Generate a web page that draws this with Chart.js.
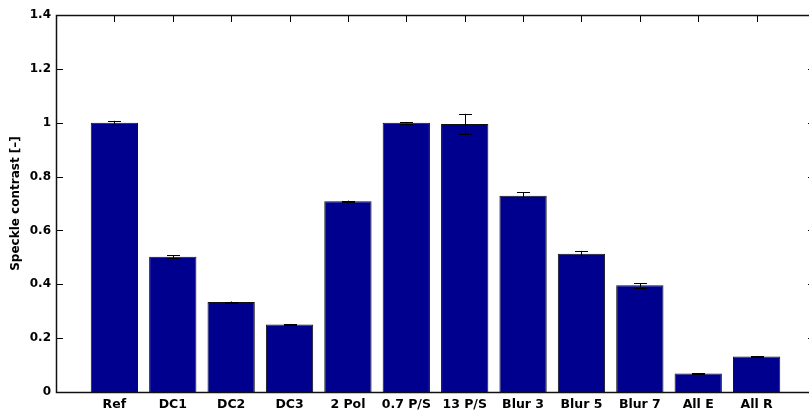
<!DOCTYPE html>
<html>
<head>
<meta charset="utf-8">
<script src="https://cdn.jsdelivr.net/npm/chart.js@4/dist/chart.umd.min.js"></script>
<style>
  html, body { margin: 0; padding: 0; background: #fff; overflow: hidden; }
  #wrap { width: 816px; height: 412px; }
  canvas { display: block; }
</style>
</head>
<body>
<div id="wrap"><canvas id="c" width="816" height="412"></canvas></div>
<script>
const categories = ['Ref', 'DC1', 'DC2', 'DC3', '2 Pol', '0.7 P/S', '13 P/S', 'Blur 3', 'Blur 5', 'Blur 7', 'All E', 'All R'];
const values = [1.0, 0.502, 0.334, 0.251, 0.708, 1.0, 0.995, 0.729, 0.513, 0.396, 0.069, 0.132];
const errors = [0.007, 0.005, 0.002, 0.002, 0.003, 0.003, 0.038, 0.012, 0.011, 0.008, 0.001, 0.002];
const yTicks = [0, 0.2, 0.4, 0.6, 0.8, 1, 1.2, 1.4];

const FONT = '"DejaVu Sans", "Liberation Sans", Arial, sans-serif';

const boxPlugin = {
  id: 'box',
  beforeDatasetsDraw(chart) {
    const ctx = chart.ctx;
    const a = chart.chartArea;
    const xs = chart.scales.x, ys = chart.scales.y;
    ctx.save();
    ctx.strokeStyle = '#000';
    ctx.lineWidth = 1;
    ctx.beginPath();
    yTicks.forEach(v => {
      const y = Math.round(ys.getPixelForValue(v)) + 0.5;
      ctx.moveTo(a.left, y); ctx.lineTo(a.left + 7, y);
      ctx.moveTo(a.right, y); ctx.lineTo(a.right - 7, y);
    });
    categories.forEach((c, i) => {
      const x = Math.round(xs.getPixelForValue(i + 1)) + 0.5;
      ctx.moveTo(x, a.top); ctx.lineTo(x, a.top + 7);
      ctx.moveTo(x, a.bottom); ctx.lineTo(x, a.bottom - 7);
    });
    ctx.stroke();
    ctx.restore();
  },
  afterDatasetsDraw(chart) {
    const ctx = chart.ctx;
    const a = chart.chartArea;
    const xs = chart.scales.x, ys = chart.scales.y;
    ctx.save();
    ctx.strokeStyle = '#000';
    ctx.lineWidth = 1;
    ctx.beginPath();
    values.forEach((v, i) => {
      const x = Math.round(xs.getPixelForValue(i + 1)) + 0.5;
      const yTop = ys.getPixelForValue(v + errors[i]);
      const yBot = ys.getPixelForValue(v - errors[i]);
      const half = 6.5;
      ctx.moveTo(x, yTop); ctx.lineTo(x, yBot);
      ctx.moveTo(x - half, Math.round(yTop) + 0.5); ctx.lineTo(x + half, Math.round(yTop) + 0.5);
      ctx.moveTo(x - half, Math.round(yBot) + 0.5); ctx.lineTo(x + half, Math.round(yBot) + 0.5);
    });
    ctx.stroke();
    ctx.strokeStyle = '#111';
    ctx.lineWidth = 1.5;
    const l = Math.round(a.left) + 0.5, r = Math.round(a.right) - 0.5;
    const t = Math.round(a.top) + 0.5, b = Math.round(a.bottom) + 0.5;
    ctx.strokeRect(l, t, r - l, b - t);
    ctx.restore();
  }
};

new Chart(document.getElementById('c'), {
  type: 'bar',
  data: {
    datasets: [{
      data: values.map((v, i) => ({ x: i + 1, y: v })),
      backgroundColor: '#00008F',
      borderColor: '#111',
      borderWidth: 1,
      barPercentage: 0.81,
      categoryPercentage: 1.0
    }]
  },
  options: {
    responsive: false,
    animation: false,
    devicePixelRatio: 1,
    layout: { padding: { top: 15, right: 1, left: 0, bottom: 0 } },
    plugins: { legend: { display: false }, tooltip: { enabled: false } },
    scales: {
      x: {
        type: 'linear',
        min: 0, max: 13,
        offset: false,
        grid: { display: false, drawTicks: false },
        border: { display: false },
        afterFit(s) { s.height = 20; },
        afterBuildTicks(s) { s.ticks = categories.map((c, i) => ({ value: i + 1 })); },
        ticks: {
          autoSkip: false,
          maxRotation: 0,
          padding: 5,
          color: '#000',
          font: { family: FONT, size: 12.5, weight: 'bold' },
          callback: (v) => categories[v - 1] || ''
        }
      },
      y: {
        min: 0, max: 1.4,
        grid: { display: false, drawTicks: false },
        border: { display: false },
        afterFit(s) { s.width = 56; },
        afterBuildTicks(s) { s.ticks = yTicks.map(v => ({ value: v })); },
        title: {
          display: true,
          text: 'Speckle contrast [\u2013]',
          color: '#000',
          font: { family: FONT, size: 12, weight: 'bold' },
          padding: { top: 9, bottom: 0 }
        },
        ticks: {
          padding: 5,
          color: '#000',
          font: { family: FONT, size: 12, weight: 'bold' },
          callback: (v) => (Math.abs(v - Math.round(v)) < 1e-9 ? String(Math.round(v)) : v.toFixed(1))
        }
      }
    }
  },
  plugins: [boxPlugin]
});
</script>
</body>
</html>
